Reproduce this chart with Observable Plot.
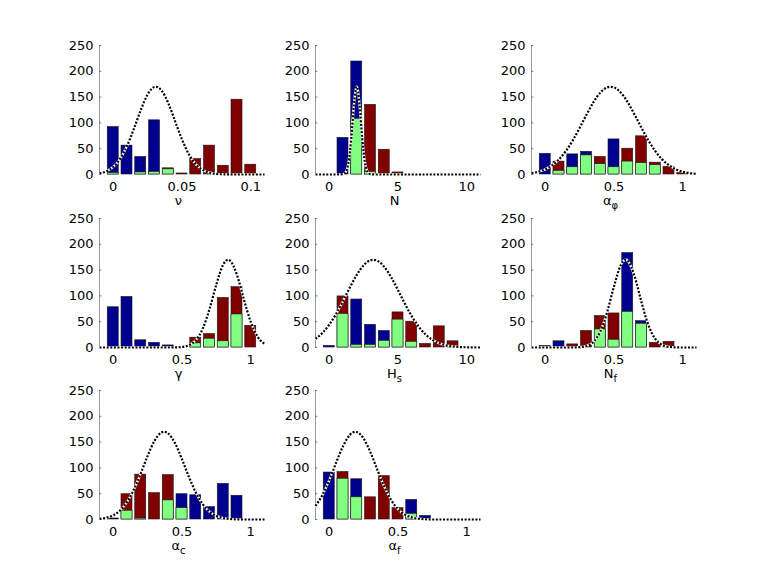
<!DOCTYPE html>
<html>
<head>
<meta charset="utf-8">
<script src="https://cdn.jsdelivr.net/npm/d3@7"></script>
<script src="https://cdn.jsdelivr.net/npm/@observablehq/plot@0.6"></script>
<style>
  html, body { margin: 0; padding: 0; background: #fff; }
  #root { position: relative; width: 768px; height: 584px; background: #fff; overflow: hidden; }
</style>
</head>
<body>
<div id="root"></div>
<script>
// ---------- tick labels ----------
const yTicks = [0, 50, 100, 150, 200, 250];
const nuTicks = [0, 0.05, 0.1];
const tenTicks = [0, 5, 10];
const unitTicks = [0, 0.5, 1];

// ---------- bin centres ----------
const nuBins = [0, 0.01, 0.02, 0.03, 0.04, 0.05, 0.06, 0.07, 0.08, 0.09, 0.1];
const countBins = [0, 1, 2, 3, 4, 5, 6, 7, 8, 9, 10];
const unitBins = [0, 0.1, 0.2, 0.3, 0.4, 0.5, 0.6, 0.7, 0.8, 0.9, 1.0];

// ---------- nu ----------
const nuBlue  = [92, 56, 34, 105, 0, 0, 0, 0, 0, 0, 0];
const nuRed   = [0, 0, 0, 0, 12, 2, 30, 56, 17, 145, 19];
const nuGreen = [3, 0, 4, 5, 10, 0, 0, 0, 0, 0, 0];
const nuCurveX = [-0.01, -0.005, 0, 0.005, 0.01, 0.015, 0.02, 0.025, 0.03, 0.031, 0.035, 0.04, 0.045, 0.05, 0.055, 0.06, 0.065, 0.07, 0.075, 0.08, 0.085, 0.09, 0.095, 0.1, 0.105, 0.11];
const nuCurveY = [2.3, 6.2, 14.6, 30.3, 55.2, 88.5, 124.8, 155.1, 169.6, 170, 163.2, 138.3, 103.1, 67.7, 39.1, 19.9, 8.9, 3.5, 1.2, 0.4, 0.1, 0, 0, 0, 0, 0];

// ---------- N ----------
const nBlue  = [0, 71, 219, 0, 0, 0, 0, 0, 0, 0, 0];
const nRed   = [0, 0, 0, 135, 48, 4, 0, 0, 0, 0, 0];
const nGreen = [0, 0, 108, 5, 0, 0, 0, 0, 0, 0, 0];
const nCurveX = [-1, 0, 0.5, 1.0, 1.2, 1.4, 1.6, 1.8, 1.9, 2.0, 2.1, 2.2, 2.4, 2.6, 2.8, 3.0, 3.5, 4, 11];
const nCurveY = [0, 0, 0, 0.7, 4.9, 23, 69.9, 136.2, 160.8, 170, 160.8, 136.2, 69.9, 23, 4.9, 0.7, 0, 0, 0];

// ---------- alpha_phi ----------
const aPhiBlue  = [40, 0, 39, 44, 0, 68, 0, 0, 0, 0, 0];
const aPhiRed   = [0, 25, 0, 0, 34, 0, 50, 74, 23, 15, 3];
const aPhiGreen = [0, 7, 14, 37, 20, 14, 25, 22, 18, 0, 0];
const aPhiCurveX = [-0.1, -0.05, 0, 0.05, 0.1, 0.15, 0.2, 0.25, 0.3, 0.35, 0.4, 0.45, 0.475, 0.5, 0.55, 0.6, 0.65, 0.7, 0.75, 0.8, 0.85, 0.9, 0.95, 1.0, 1.05, 1.1];
const aPhiCurveY = [2.7, 5.4, 10.1, 17.8, 29.3, 45.4, 66.1, 90.3, 115.9, 139.9, 158.5, 168.7, 170, 168.7, 158.5, 139.9, 115.9, 90.3, 66.1, 45.4, 29.3, 17.8, 10.1, 5.4, 2.7, 1.3];

// ---------- gamma ----------
const gBlue  = [78, 98, 14, 9, 4, 0, 0, 0, 0, 0, 0];
const gRed   = [0, 0, 0, 0, 0, 0, 19, 26, 96, 117, 42];
const gGreen = [0, 0, 0, 0, 0, 0, 8, 17, 12, 64, 0];
const gCurveX = [-0.1, 0, 0.1, 0.2, 0.3, 0.4, 0.45, 0.5, 0.55, 0.6, 0.65, 0.7, 0.75, 0.8, 0.835, 0.85, 0.9, 0.95, 1.0, 1.05, 1.1];
const gCurveY = [0, 0, 0, 0, 0, 0, 0.2, 1.0, 4.3, 13.9, 36, 74.4, 122.5, 160.8, 170, 168.3, 140.4, 93.3, 49.5, 20.9, 7.0];

// ---------- H_s ----------
const hBlue  = [3, 0, 93, 44, 32, 0, 0, 0, 0, 0, 0];
const hRed   = [0, 99, 0, 0, 0, 68, 50, 7, 41, 12, 0];
const hGreen = [0, 65, 5, 5, 13, 54, 11, 0, 0, 0, 0];
const hCurveX = [-1, -0.5, 0, 0.5, 1, 1.5, 2, 2.5, 3, 3.2, 3.5, 4, 4.5, 5, 5.5, 6, 6.5, 7, 7.5, 8, 8.5, 9, 9.5, 10, 10.5, 11];
const hCurveY = [16.7, 28.1, 44.2, 65.2, 90, 116.3, 140.7, 159.4, 169.1, 170, 168, 156.3, 136.1, 111, 84.8, 60.6, 40.6, 25.4, 14.9, 8.2, 4.2, 2.0, 0.9, 0.4, 0.1, 0];

// ---------- N_f ----------
const nfBlue  = [3, 12, 0, 0, 0, 0, 183, 51, 0, 0, 0];
const nfRed   = [0, 0, 6, 32, 61, 66, 0, 0, 9, 11, 0];
const nfGreen = [0, 0, 0, 0, 35, 15, 69, 46, 0, 0, 0];
const nfCurveX = [-0.1, 0, 0.1, 0.2, 0.25, 0.3, 0.35, 0.4, 0.45, 0.5, 0.55, 0.585, 0.6, 0.65, 0.7, 0.75, 0.8, 0.85, 0.9, 0.95, 1.0, 1.1];
const nfCurveY = [0, 0, 0, 0, 0.6, 2.9, 10.7, 30.7, 68.4, 118.5, 159.9, 170, 168.1, 137.6, 87.8, 43.6, 16.8, 5.1, 1.2, 0.2, 0, 0];

// ---------- alpha_c ----------
const acBlue  = [2, 0, 0, 0, 0, 49, 47, 24, 69, 46, 0];
const acRed   = [0, 49, 87, 51, 86, 0, 0, 0, 0, 0, 0];
const acGreen = [0, 17, 2, 0, 37, 22, 0, 0, 0, 0, 0];
const acCurveX = [-0.1, -0.05, 0, 0.05, 0.1, 0.15, 0.2, 0.25, 0.3, 0.35, 0.37, 0.4, 0.45, 0.5, 0.55, 0.6, 0.65, 0.7, 0.75, 0.8, 0.85, 0.9, 0.95, 1.0, 1.1];
const acCurveY = [1.3, 3.4, 8.1, 17.5, 33.6, 58, 89.4, 123.4, 152.5, 168.5, 170, 166.6, 147.5, 116.8, 82.8, 52.5, 29.8, 15.1, 6.9, 2.8, 1.0, 0.3, 0, 0, 0];

// ---------- alpha_f ----------
const afBlue  = [91, 0, 78, 0, 0, 0, 38, 7, 0, 0, 0];
const afRed   = [0, 92, 0, 43, 84, 22, 0, 0, 0, 0, 0];
const afGreen = [0, 79, 43, 0, 0, 0, 11, 0, 0, 0, 0];
const afCurveX = [-0.1, -0.05, 0, 0.05, 0.1, 0.15, 0.19, 0.2, 0.25, 0.3, 0.35, 0.4, 0.45, 0.5, 0.55, 0.6, 0.65, 0.7, 0.75, 0.8, 0.9, 1.0, 1.1];
const afCurveY = [26.2, 47.3, 76.2, 110, 142, 164, 170, 169.6, 156.9, 129.9, 96.3, 63.8, 37.8, 20.1, 9.5, 4.1, 1.5, 0.5, 0, 0, 0, 0, 0];

// ---------- panel layout ----------
const colLeft = [99, 315, 531];
const rowTop = [45, 218, 390];
const panels = [
  {main: "ν", sub: "", bins: nuBins, blue: nuBlue, red: nuRed, green: nuGreen, cx: nuCurveX, cy: nuCurveY, domain: [-0.01, 0.11], ticks: nuTicks, col: 0, row: 0},
  {main: "N", sub: "", bins: countBins, blue: nBlue, red: nRed, green: nGreen, cx: nCurveX, cy: nCurveY, domain: [-1, 11], ticks: tenTicks, col: 1, row: 0},
  {main: "α", sub: "φ", bins: unitBins, blue: aPhiBlue, red: aPhiRed, green: aPhiGreen, cx: aPhiCurveX, cy: aPhiCurveY, domain: [-0.1, 1.1], ticks: unitTicks, col: 2, row: 0},
  {main: "γ", sub: "", bins: unitBins, blue: gBlue, red: gRed, green: gGreen, cx: gCurveX, cy: gCurveY, domain: [-0.1, 1.1], ticks: unitTicks, col: 0, row: 1},
  {main: "H", sub: "s", bins: countBins, blue: hBlue, red: hRed, green: hGreen, cx: hCurveX, cy: hCurveY, domain: [-1, 11], ticks: tenTicks, col: 1, row: 1},
  {main: "N", sub: "f", bins: unitBins, blue: nfBlue, red: nfRed, green: nfGreen, cx: nfCurveX, cy: nfCurveY, domain: [-0.1, 1.1], ticks: unitTicks, col: 2, row: 1},
  {main: "α", sub: "c", bins: unitBins, blue: acBlue, red: acRed, green: acGreen, cx: acCurveX, cy: acCurveY, domain: [-0.1, 1.1], ticks: unitTicks, col: 0, row: 2},
  {main: "α", sub: "f", bins: unitBins, blue: afBlue, red: afRed, green: afGreen, cx: afCurveX, cy: afCurveY, domain: [-0.1, 1.1], ticks: unitTicks, col: 1, row: 2}
];

const BLUE = "#00008F", RED = "#800000", GREEN = "#80FF80";
const FONT = "'DejaVu Sans', sans-serif";
const root = document.getElementById("root");

function drawPanel(p) {
  const ml = 40, mr = 10, mt = 8, mb = 42, W = 165, H = 129;
  const step = p.bins[1] - p.bins[0], hw = 0.4 * step;
  const series = vals => p.bins.map((x, i) => ({x, v: vals[i]})).filter(d => d.v > 0);
  const curve = p.cx.map((x, i) => ({x, y: p.cy[i]}));
  const span = p.domain[1] - p.domain[0];
  const bar = (vals, fill) => Plot.rectY(series(vals), {
    x1: d => d.x - hw, x2: d => d.x + hw, y1: 0, y2: "v",
    fill, stroke: "#1a1a1a", strokeWidth: 0.6
  });
  const svg = Plot.plot({
    width: ml + W + mr, height: mt + H + mb,
    marginLeft: ml, marginRight: mr, marginTop: mt, marginBottom: mb,
    style: {fontFamily: FONT, fontSize: "13px", background: "transparent", color: "black", overflow: "visible"},
    x: {domain: p.domain},
    y: {domain: [0, 250]},
    marks: [
      Plot.ruleX([p.domain[0]], {stroke: "#9a9a9a", strokeWidth: 1}),
      Plot.ruleY(yTicks, {x1: p.domain[0], x2: p.domain[0] + span * 0.014, stroke: "#777", strokeWidth: 1}),
      bar(p.blue, BLUE),
      bar(p.red, RED),
      bar(p.green, GREEN),
      Plot.line(curve, {x: "x", y: "y", stroke: "white", strokeWidth: 2.4, curve: "monotone-x"}),
      Plot.line(curve, {x: "x", y: "y", stroke: "black", strokeWidth: 2.2, strokeDasharray: "2,1.6", strokeLinecap: "butt", curve: "monotone-x"}),
      Plot.axisX({ticks: p.ticks, tickSize: 0, tickPadding: 7, label: null, tickFormat: d => String(d)}),
      Plot.axisY({ticks: yTicks, tickSize: 0, tickPadding: 6, label: null, tickFormat: d => String(d)})
    ]
  });
  svg.style.position = "absolute";
  svg.style.left = (colLeft[p.col] - ml) + "px";
  svg.style.top = (rowTop[p.row] - mt) + "px";
  const t = d3.select(svg).append("text")
    .attr("x", ml + W / 2 - 3)
    .attr("y", mt + H + 31)
    .attr("text-anchor", "middle")
    .attr("fill", "black")
    .style("font-family", FONT)
    .style("font-size", "13px");
  t.append("tspan").attr("fill", "black").text(p.main);
  if (p.sub) {
    t.append("tspan").attr("dy", "4").attr("fill", "black").style("font-size", "10px").text(p.sub);
  }
  root.appendChild(svg);
}

panels.forEach(drawPanel);
</script>
</body>
</html>
